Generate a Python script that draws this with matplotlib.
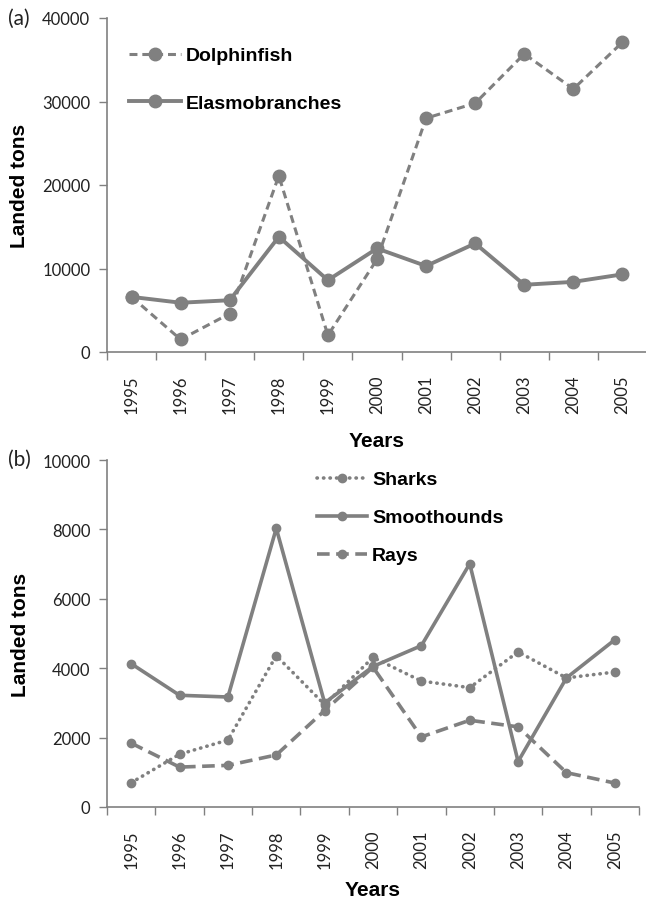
import matplotlib
matplotlib.use("Agg")
import matplotlib.pyplot as plt

years = ["1995", "1996", "1997", "1998", "1999", "2000",
         "2001", "2002", "2003", "2004", "2005"]

# panel (a)
dolphinfish = [6600, 1500, 4600, 21100, 2000, 11100, 28000, 29800, 35700, 31500, 37100]
elasmobranches = [6600, 5900, 6200, 13800, 8600, 12400, 10300, 13000, 8050, 8400, 9300]

# panel (b)
sharks = [700, 1520, 1930, 4360, 2950, 4310, 3630, 3440, 4470, 3720, 3890]
smoothhounds = [4130, 3220, 3170, 8030, 3000, 4050, 4650, 7010, 1310, 3720, 4820]
rays = [1840, 1150, 1200, 1500, 2780, 4030, 2020, 2500, 2310, 990, 690]

GREY = "#808080"
TXT = "#222222"
TICKFONT = "Lato"
BOLDFONT = "Liberation Sans"

fig = plt.figure(figsize=(6.46, 9.03), dpi=100)
ax1 = fig.add_axes([107 / 646, 1 - 353 / 903, 540 / 646, 334 / 903])
ax2 = fig.add_axes([107 / 646, 1 - 808 / 903, 532 / 646, 347 / 903])

x = list(range(len(years)))


def style_axes(ax, ymax, step, xpad):
    ax.set_xlim(-0.5, len(years) - 0.5)
    ax.set_ylim(0, ymax)
    ax.set_yticks(range(0, ymax + 1, step))
    ax.set_xticks(x)
    ax.set_xticklabels(years, rotation=90, fontsize=12, family=TICKFONT, color=TXT)
    ax.set_xticks([i - 0.5 for i in range(len(years) + 1)], minor=True)
    ax.tick_params(axis="x", which="major", length=0, pad=16)
    ax.tick_params(axis="x", which="minor", length=6, width=1, color=GREY, direction="out")
    ax.tick_params(axis="y", length=6, width=1, color=GREY, direction="out", pad=6)
    for lab in ax.get_yticklabels():
        lab.set_fontsize(12)
        lab.set_family(TICKFONT)
        lab.set_color(TXT)
    for side in ["top", "right"]:
        ax.spines[side].set_visible(False)
    for side in ["left", "bottom"]:
        ax.spines[side].set_color(GREY)
        ax.spines[side].set_linewidth(1.2)
    ax.set_ylabel("Landed tons", fontsize=15, fontweight="bold", family=BOLDFONT,
                  color="black")
    ax.set_xlabel("Years", fontsize=15, fontweight="bold", family=BOLDFONT,
                  color="black", labelpad=xpad)
    ax.yaxis.set_label_coords(-0.145, 0.5)


# (a)
ax1.plot(x, dolphinfish, color=GREY, lw=2.2, dashes=(2.6, 1.6), marker="o", ms=9,
         mfc=GREY, mec=GREY, label="Dolphinfish")
ax1.plot(x, elasmobranches, color=GREY, lw=2.8, marker="o", ms=9,
         mfc=GREY, mec=GREY, label="Elasmobranches")
style_axes(ax1, 40000, 10000, 13)
ax1.legend(loc="upper left", bbox_to_anchor=(119 / 646, 1 - 38 / 903),
           bbox_transform=fig.transFigure, frameon=False, borderpad=0,
           handlelength=2.7, handletextpad=0.25, labelspacing=1.55,
           prop={"family": BOLDFONT, "weight": "bold", "size": 14})

# (b)
ax2.plot(x, sharks, color=GREY, lw=2.6, dashes=(0.1, 1.7), dash_capstyle="round",
         marker="o", ms=6, mfc=GREY, mec=GREY, label="Sharks")
ax2.plot(x, smoothhounds, color=GREY, lw=2.6, marker="o", ms=6,
         mfc=GREY, mec=GREY, label="Smoothounds")
ax2.plot(x, rays, color=GREY, lw=2.6, dashes=(3.5, 1.8), marker="o", ms=6,
         mfc=GREY, mec=GREY, label="Rays")
style_axes(ax2, 10000, 2000, 9)
ax2.legend(loc="upper left", bbox_to_anchor=(307 / 646, 1 - 462 / 903),
           bbox_transform=fig.transFigure, frameon=False, borderpad=0,
           handlelength=2.6, handletextpad=0.25, labelspacing=1.05,
           prop={"family": BOLDFONT, "weight": "bold", "size": 14})

fig.text(8 / 646, 1 - 19 / 903, "(a)", fontsize=15, family=TICKFONT, color=TXT,
         va="center", ha="left")
fig.text(8 / 646, 1 - 460 / 903, "(b)", fontsize=15, family=TICKFONT, color=TXT,
         va="center", ha="left")

fig.savefig("out.png", dpi=100, facecolor="white")
